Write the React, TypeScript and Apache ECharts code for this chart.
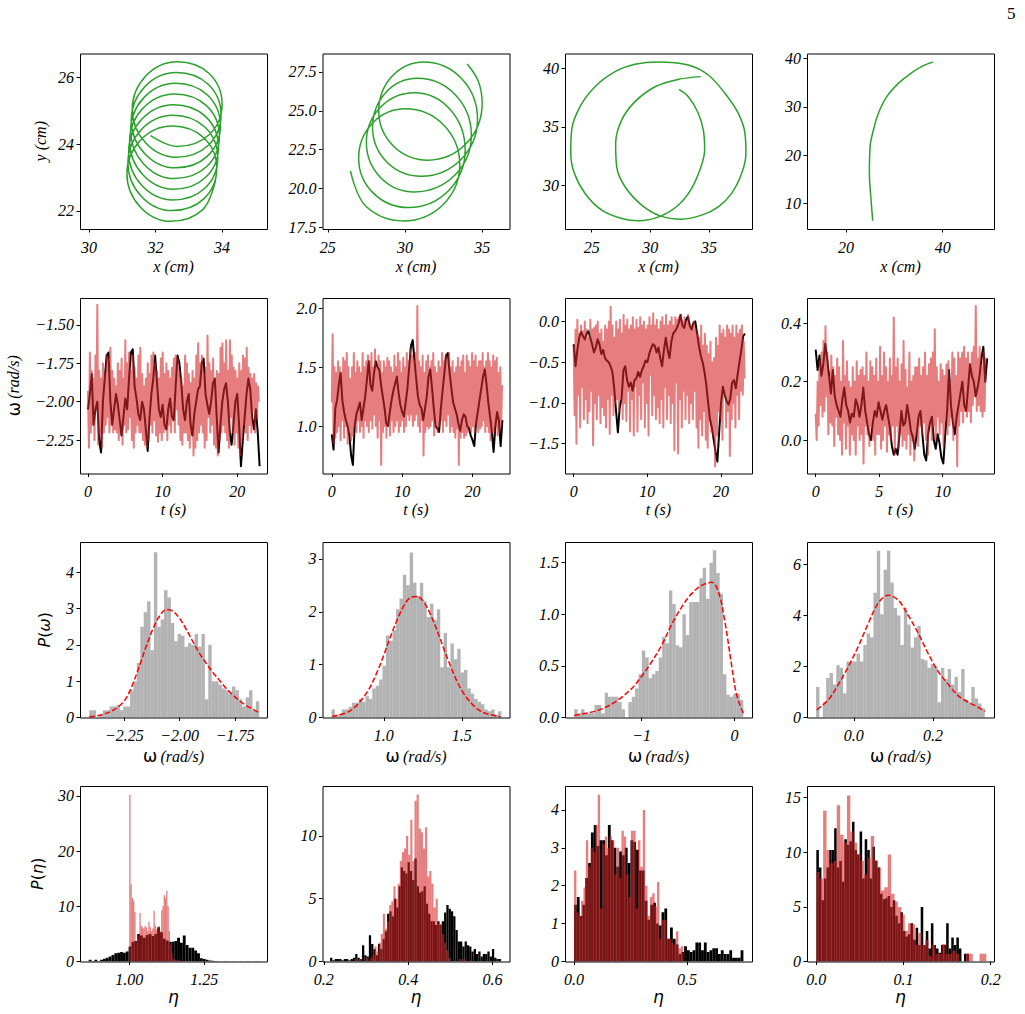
import React, { useEffect, useRef } from "react";
import * as echarts from "echarts";

// ---------------- Row 1: trajectories (x, y in cm) ----------------
const traj1 = [
  [31.85, 24.25],
  [32.65, 23.93], [33.61, 24.28], [34.0, 25.195], [33.61, 26.11], [32.65, 26.46], [31.7, 26.03], [31.3, 25.035], [31.7, 24.04],
  [32.62, 23.61], [33.58, 23.96], [33.97, 24.875], [33.58, 25.79], [32.62, 26.14], [31.67, 25.71], [31.27, 24.715], [31.67, 23.72],
  [32.6, 23.29], [33.56, 23.64], [33.95, 24.555], [33.56, 25.47], [32.6, 25.82], [31.65, 25.39], [31.25, 24.395], [31.65, 23.4],
  [32.57, 22.97], [33.53, 23.32], [33.92, 24.235], [33.53, 25.15], [32.57, 25.5], [31.62, 25.07], [31.22, 24.075], [31.62, 23.08],
  [32.54, 22.65], [33.5, 23.0], [33.89, 23.915], [33.5, 24.83], [32.54, 25.18], [31.59, 24.75], [31.19, 23.755], [31.59, 22.76],
  [32.52, 22.33], [33.48, 22.68], [33.87, 23.595], [33.48, 24.51], [32.52, 24.86], [31.57, 24.43], [31.17, 23.435], [31.57, 22.44],
  [32.49, 22.01], [33.45, 22.36], [33.84, 23.275], [33.45, 24.19], [32.49, 24.54], [31.54, 24.11], [31.14, 23.115], [31.54, 22.12],
  [32.46, 21.69], [33.42, 22.04], [33.81, 22.955],
];
const traj2 = [
  [26.47, 21.13], [27.47, 18.85],
  [29.9, 17.91], [32.48, 18.97], [33.55, 21.52], [32.52, 24.07], [30.03, 25.13], [27.89, 24.2], [27.0, 21.95], [27.95, 19.7],
  [30.23, 18.77], [32.82, 19.85], [33.9, 22.47], [32.93, 25.09], [30.6, 26.17], [28.41, 25.23], [27.5, 22.97], [28.41, 20.71],
  [30.6, 19.78], [33.22, 20.85], [34.3, 23.43], [33.27, 26.02], [30.8, 27.09], [28.75, 26.17], [27.9, 23.94], [28.82, 21.71],
  [31.05, 20.79], [33.63, 21.87], [34.7, 24.47], [33.68, 27.07], [31.22, 28.15], [29.16, 27.22], [28.3, 24.98], [29.23, 22.75],
  [31.47, 21.82], [33.97, 22.89], [35.0, 25.48], [34.75, 26.9], [34.03, 28.02],
];
const traj3 = [
  [34.29, 39.29], [32.39, 39.06], [30.4, 38.43], [28.69, 37.16], [27.55, 35.59], [27.04, 33.6], [27.13, 31.61], [27.84, 29.91],
  [29.26, 28.35], [30.88, 27.41], [32.67, 27.15], [34.38, 27.49], [35.8, 28.2], [36.93, 29.34], [37.79, 31.05], [38.15, 32.75],
  [38.07, 34.46], [37.5, 36.16], [36.36, 37.87], [34.94, 39.43], [33.24, 40.28], [30.68, 40.54], [28.69, 40.34], [26.99, 39.71],
  [25.28, 38.43], [24.0, 36.73], [23.29, 34.74], [23.21, 32.75], [23.52, 31.05], [24.43, 29.34], [25.85, 27.92], [27.55, 27.21],
  [28.98, 27.01], [30.88, 27.41], [32.39, 28.35], [33.52, 29.77], [34.32, 31.61], [34.63, 33.03], [34.52, 34.74], [34.03, 36.3],
  [33.24, 37.58], [32.44, 38.21],
];
const traj4 = [
  [25.52, 6.4], [25.18, 10.7], [24.83, 16.2], [24.97, 21.75], [25.66, 25.2], [26.69, 28.67], [28.42, 32.12], [30.83, 34.89],
  [33.6, 37.1], [36.0, 38.55], [37.94, 39.32],
];

// ---------------- Row 2: angular velocity time series (rad/s) ----------------
const T_END = [23.0, 24.25, 23.25, 13.5];
const T_END_RED = [22.9, 24.2, 23.2, 13.45];
const omegaBlack1 = [
  -2.05, -1.95, -1.82, -2.15, -2.05, -2.0, -2.25, -2.33, -2.0, -1.85,
  -1.7, -1.68, -2.0, -2.15, -2.05, -1.95, -2.02, -2.12, -2.22, -2.1,
  -1.98, -2.05, -1.85, -1.68, -1.66, -1.9, -1.98, -2.08, -2.12, -2.0,
  -2.05, -2.18, -2.32, -2.1, -1.95, -1.85, -1.7, -1.88, -2.05, -2.1,
  -2.02, -2.15, -2.18, -2.05, -1.98, -2.1, -2.12, -1.9, -1.7, -1.75,
  -1.88, -2.05, -2.12, -2.0, -1.95, -2.15, -2.22, -2.08, -2.0, -1.92,
  -1.9, -1.75, -1.72, -1.95, -2.02, -2.08, -2.0, -1.88, -1.85, -2.1,
  -2.33, -2.15, -2.0, -1.92, -1.88, -2.0, -2.2, -2.28, -2.15, -2.0,
  -1.95, -2.15, -2.42, -2.25, -2.1, -1.95, -1.85, -1.92, -2.1, -2.18,
  -2.05, -2.2, -2.42,
];
const omegaRed1 = [
  -1.93, -2.3, -1.68, -2.2, -1.8, -2.15, -1.85, -2.25,
  -1.7, -2.05, -1.37, -2.28, -1.8, -2.2, -1.85, -2.3,
  -1.75, -2.2, -1.82, -2.15, -1.7, -2.1, -1.72, -2.2,
  -1.65, -2.15, -1.8, -2.2, -1.85, -2.18, -1.9, -2.2,
  -1.75, -2.25, -1.8, -2.2, -1.72, -2.28, -1.85, -2.15,
  -1.6, -2.2, -1.75, -2.18, -1.68, -2.1, -1.8, -2.25,
  -1.7, -2.3, -1.78, -2.2, -1.85, -2.15, -1.7, -2.2,
  -1.65, -2.2, -1.82, -2.25, -1.9, -2.28, -1.85, -2.3,
  -1.75, -2.25, -1.82, -2.15, -1.7, -2.2, -1.68, -2.12,
  -1.75, -2.22, -1.8, -2.26, -1.85, -2.2, -1.72, -2.25,
  -1.68, -2.2, -1.82, -2.18, -1.75, -2.25, -1.8, -2.15,
  -1.85, -2.2, -1.78, -2.12, -1.72, -2.2, -1.7, -2.05,
  -1.72, -2.15, -1.8, -2.25, -1.85, -2.28, -1.9, -2.2,
  -1.7, -2.2, -1.75, -2.25, -1.82, -2.3, -1.88, -2.2,
  -1.8, -2.35, -1.85, -2.3, -1.7, -2.25, -1.62, -2.2,
  -1.75, -2.15, -1.7, -2.2, -1.82, -2.3, -1.78, -2.25,
  -1.57, -2.1, -1.75, -2.2, -1.8, -2.15, -1.72, -2.28,
  -1.85, -2.3, -1.8, -2.35, -1.82, -2.25, -1.65, -2.2,
  -1.62, -2.15, -1.75, -2.2, -1.6, -2.25, -1.8, -2.3,
  -1.6, -2.1, -1.7, -2.2, -1.78, -2.28, -1.8, -2.2,
  -1.85, -2.3, -1.75, -2.35, -1.8, -2.25, -1.7, -2.15,
  -1.72, -2.2, -1.65, -2.25, -1.78, -2.15, -1.82, -2.2,
  -1.85, -2.05, -1.82, -2.2, -1.88, -2.1, -1.9, -2.0,
];
const omegaBlack2 = [
  0.93, 0.8, 1.15, 1.22, 1.35, 1.45, 1.22, 1.12, 1.05, 1.0,
  0.92, 0.75, 0.67, 1.0, 1.1, 1.15, 1.2, 1.05, 1.15, 1.25,
  1.4, 1.55, 1.35, 1.3, 1.45, 1.55, 1.5, 1.48, 1.35, 1.25,
  1.15, 1.02, 1.0, 1.12, 1.22, 1.3, 1.36, 1.42, 1.28, 1.18,
  1.12, 1.08, 1.2, 1.32, 1.5, 1.68, 1.73, 1.56, 1.4, 1.25,
  1.18, 1.15, 1.05, 1.15, 1.25, 1.42, 1.48, 1.32, 1.15, 1.0,
  0.98, 0.95, 1.15, 1.3, 1.45, 1.6, 1.62, 1.45, 1.32, 1.2,
  1.15, 1.1, 1.02, 0.96, 1.05, 1.1, 1.08, 1.0, 0.98, 0.92,
  0.88, 0.83, 1.02, 1.12, 1.22, 1.32, 1.42, 1.48, 1.35, 1.2,
  1.08, 0.95, 0.78, 1.0, 1.12, 1.05, 0.83, 1.05,
];
const omegaRed2 = [
  1.2, 1.78, 0.85, 1.5, 0.9, 1.45, 0.95, 1.55,
  1.0, 1.5, 0.88, 1.45, 1.05, 1.58, 0.9, 1.55,
  1.0, 1.62, 0.85, 1.5, 0.95, 1.4, 0.88, 1.5,
  0.92, 1.62, 1.0, 1.45, 0.95, 1.55, 1.05, 1.5,
  0.95, 1.45, 1.0, 1.62, 0.9, 1.5, 1.05, 1.55,
  1.0, 1.6, 0.95, 1.55, 1.05, 1.62, 0.98, 1.5,
  1.1, 1.65, 1.0, 1.5, 0.9, 1.6, 1.05, 1.55,
  0.67, 1.45, 0.95, 1.55, 1.0, 1.5, 0.9, 1.58,
  1.0, 1.55, 0.92, 1.5, 1.05, 1.45, 0.95, 1.6,
  1.0, 1.5, 1.05, 1.62, 0.95, 1.55, 1.0, 1.45,
  1.05, 1.58, 0.95, 1.5, 1.0, 1.62, 1.1, 1.55,
  1.05, 1.65, 1.1, 1.6, 1.0, 1.55, 1.05, 1.62,
  1.1, 2.02, 1.0, 1.55, 0.95, 1.5, 1.05, 1.6,
  0.75, 1.45, 0.95, 1.55, 1.0, 1.6, 0.98, 1.5,
  1.0, 1.55, 1.05, 1.62, 0.92, 1.5, 1.0, 1.45,
  0.95, 1.55, 1.0, 1.5, 1.05, 1.62, 0.95, 1.55,
  1.05, 1.6, 1.0, 1.55, 1.1, 1.62, 0.95, 1.5,
  1.0, 1.55, 0.95, 1.45, 0.9, 1.5, 0.98, 1.58,
  0.67, 1.5, 0.9, 1.55, 0.95, 1.6, 0.9, 1.45,
  0.92, 1.6, 0.95, 1.55, 1.0, 1.5, 0.95, 1.62,
  1.0, 1.55, 0.95, 1.6, 1.02, 1.5, 0.95, 1.55,
  0.98, 1.55, 1.0, 1.62, 1.05, 1.5, 0.95, 1.55,
  1.0, 1.62, 0.95, 1.55, 0.88, 1.5, 0.95, 1.6,
  0.95, 1.55, 1.0, 1.58, 0.92, 1.45, 0.95, 1.5,
  1.0, 1.35,
];
const omegaBlack3 = [
  -0.28, -0.55, -0.35, -0.2, -0.13, -0.18, -0.22, -0.15, -0.12, -0.2,
  -0.28, -0.38, -0.32, -0.22, -0.28, -0.4, -0.35, -0.45, -0.48, -0.5,
  -0.55, -0.62, -0.82, -1.1, -1.36, -1.05, -0.95, -0.6, -0.55, -0.72,
  -0.8, -0.75, -0.85, -0.72, -0.7, -0.62, -0.68, -0.6, -0.55, -0.48,
  -0.5, -0.4, -0.33, -0.28, -0.3, -0.38, -0.32, -0.45, -0.55, -0.35,
  -0.2, -0.35, -0.45, -0.25, -0.15, -0.12, -0.08, -0.02, 0.08, -0.05,
  -0.08, 0.02, 0.06, -0.05, -0.1, -0.02, 0.0, -0.15, -0.3, -0.42,
  -0.5, -0.62, -0.78, -1.0, -1.2, -1.3, -1.45, -1.6, -1.72, -1.35,
  -1.0, -0.8, -0.9, -0.98, -1.02, -0.95, -0.75, -0.72, -0.82, -0.65,
  -0.5, -0.35, -0.18, -0.15,
];
const omegaRed3 = [
  -0.3, -1.15, -0.1, -1.5, 0.02, -0.9, -0.15, -1.3,
  -0.05, -0.8, -0.12, -1.2, 0.0, -0.95, -0.1, -1.25,
  -0.2, -1.1, 0.02, -0.85, -0.1, -1.52, -0.08, -1.0,
  -0.05, -1.2, 0.0, -0.9, -0.15, -1.25, -0.1, -1.05,
  -0.25, -1.15, -0.05, -1.3, -0.1, -0.95, 0.0, -1.38,
  0.18, -0.9, -0.05, -1.15, -0.2, -1.0, 0.0, -0.95,
  -0.1, -1.1, 0.02, -0.95, -0.15, -1.2, 0.08, -1.0,
  -0.05, -1.22, 0.02, -0.85, -0.1, -1.35, -0.05, -0.95,
  0.05, -1.4, -0.1, -0.8, 0.02, -1.35, -0.08, -0.9,
  0.05, -1.2, -0.05, -0.75, 0.0, -1.3, -0.1, -1.0,
  -0.05, -1.4, 0.05, -0.65, -0.05, -1.15, 0.1, -0.9,
  -0.05, -1.2, 0.02, -1.05, -0.1, -1.25, 0.0, -0.95,
  0.05, -1.3, -0.05, -0.8, 0.08, -1.2, -0.05, -0.9,
  0.0, -1.25, 0.05, -1.0, -0.05, -1.58, 0.05, -0.75,
  0.02, -1.62, 0.05, -0.95, 0.08, -1.3, 0.0, -0.85,
  0.05, -1.2, 0.0, -0.9, 0.08, -1.25, -0.05, -1.0,
  -0.05, -1.2, 0.0, -0.85, -0.1, -1.3, -0.15, -1.55,
  -0.2, -1.2, -0.05, -1.4, -0.3, -1.1, -0.15, -1.45,
  -0.3, -1.55, -0.4, -1.2, -0.25, -1.35, -0.5, -1.4,
  -0.45, -1.78, -0.2, -1.4, -0.3, -1.1, -0.05, -1.2,
  -0.15, -1.45, -0.1, -0.9, -0.2, -1.3, -0.05, -1.1,
  -0.1, -1.65, -0.15, -1.2, -0.05, -1.0, -0.2, -1.3,
  -0.05, -0.9, -0.15, -1.2, -0.1, -0.85, -0.05, -0.9,
  -0.25, -0.7,
];
const omegaBlack4 = [
  0.31, 0.24, 0.29, 0.22, 0.26, 0.33, 0.28, 0.22, 0.16, 0.24,
  0.15, 0.12, 0.1, 0.08, 0.14, 0.18, 0.12, 0.1, 0.06, 0.09,
  0.08, 0.14, 0.12, 0.08, 0.12, 0.18, 0.1, 0.06, 0.02, 0.0,
  0.06, 0.1, 0.08, 0.13, 0.1, 0.07, 0.1, 0.12, 0.08, 0.04,
  -0.02, -0.05, -0.03, -0.05, 0.02, 0.1, 0.05, 0.06, 0.12, 0.08,
  0.03, 0.01, -0.03, 0.02, 0.08, 0.1, 0.02, -0.05, -0.07, 0.02,
  0.06, 0.08, 0.0, -0.03, 0.02, -0.01, -0.06, -0.08, 0.02, 0.1,
  0.24, 0.12, 0.06, 0.02, 0.08, 0.12, 0.16, 0.2, 0.12, 0.1,
  0.18, 0.26, 0.22, 0.2, 0.15, 0.18, 0.22, 0.28, 0.32, 0.2,
  0.28,
];
const omegaRed4 = [
  0.09, 0.0, 0.2, 0.05, 0.27, 0.12, 0.3, 0.08,
  0.34, 0.1, 0.39, 0.15, 0.3, 0.02, 0.22, 0.06,
  0.29, 0.05, 0.25, -0.02, 0.22, 0.08, 0.28, 0.02,
  0.25, 0.0, 0.2, -0.05, 0.34, 0.06, 0.22, -0.03,
  0.27, 0.05, 0.2, -0.05, 0.18, 0.02, 0.25, 0.0,
  0.2, -0.05, 0.27, 0.05, 0.22, 0.0, 0.24, 0.02,
  0.25, -0.08, 0.22, 0.05, 0.3, 0.02, 0.2, -0.02,
  0.27, 0.05, 0.25, 0.0, 0.22, -0.05, 0.28, 0.02,
  0.2, 0.02, 0.32, -0.03, 0.22, 0.0, 0.3, 0.05,
  0.25, -0.04, 0.2, 0.02, 0.28, 0.0, 0.22, 0.05,
  0.42, -0.05, 0.25, 0.05, 0.28, -0.03, 0.2, 0.02,
  0.26, -0.02, 0.34, 0.0, 0.24, -0.03, 0.18, 0.02,
  0.3, -0.05, 0.2, 0.0, 0.22, -0.07, 0.25, 0.02,
  0.25, -0.02, 0.28, 0.05, 0.22, 0.02, 0.25, 0.06,
  0.3, 0.0, 0.22, -0.05, 0.26, 0.05, 0.28, 0.0,
  0.3, 0.05, 0.38, 0.0, 0.25, 0.08, 0.2, 0.02,
  0.26, 0.06, 0.24, -0.02, 0.22, 0.08, 0.26, 0.02,
  0.27, 0.05, 0.2, 0.08, 0.3, 0.0, 0.28, 0.05,
  0.22, -0.09, 0.3, 0.05, 0.28, 0.1, 0.3, 0.06,
  0.32, 0.1, 0.28, 0.08, 0.3, 0.1, 0.26, 0.06,
  0.3, 0.12, 0.32, 0.15, 0.46, 0.1, 0.28, 0.12,
  0.32, 0.1, 0.25, 0.08, 0.3, 0.1, 0.28, 0.28,
];

// ---------------- Row 3: P(omega) histograms + fitted curves ----------------
const hist3Start = [-2.408, 0.665, -1.727, -0.0951];
const hist3Width = [0.01534, 0.02178, 0.03646, 0.00852];
const pOmega1 = [
  0.2, 0.2, 0.0, 0.1, 0.2, 0.2, 0.3, 0.3, 0.35, 0.2,
  0.3, 0.3, 0.75, 1.0, 1.5, 2.5, 2.9, 3.2, 1.85, 4.55,
  2.5, 2.7, 3.5, 3.3, 2.6, 2.1, 2.3, 2.25, 1.95, 2.05,
  2.0, 2.3, 1.95, 2.3, 0.5, 2.0, 1.0, 1.0, 0.9, 0.8,
  0.75, 0.65, 0.85, 0.75, 0.5, 0.3, 0.55, 0.75, 0.2, 0.45,
];
const pOmega2 = [
  0.15, 0.05, 0.07, 0.15, 0.15, 0.2, 0.28, 0.28, 0.35, 0.3,
  0.4, 0.35, 0.55, 0.6, 0.72, 0.98, 1.55, 1.45, 1.65, 2.05,
  2.25, 2.7, 2.5, 3.12, 2.55, 2.3, 2.55, 2.2, 1.9, 2.15,
  1.85, 2.05, 0.95, 1.6, 0.95, 1.4, 1.1, 1.3, 0.85, 0.9,
  0.55, 0.45, 0.35, 0.3, 0.25, 0.15, 0.12, 0.15, 0.05, 0.12,
];
const pOmega3 = [
  0.08, 0.04, 0.08, 0.04, 0.04, 0.04, 0.12, 0.12, 0.04, 0.24,
  0.2, 0.2, 0.2, 0.15, 0.08, 0.0, 0.15, 0.2, 0.28, 0.42,
  0.65, 0.58, 0.38, 0.42, 0.45, 0.58, 0.78, 0.72, 1.23, 1.1,
  0.7, 0.68, 1.0, 0.8, 1.12, 1.12, 1.12, 1.35, 1.45, 1.15,
  1.5, 1.62, 1.4, 1.2, 0.42, 0.22, 0.2, 0.23, 0.23, 0.17,
];
const pOmega4 = [
  1.2, 0.0, 0.6, 1.55, 1.75, 1.3, 2.05, 1.95, 0.95, 2.2,
  2.2, 2.2, 2.5, 2.2, 2.85, 3.3, 3.15, 4.9, 6.55, 4.05,
  5.8, 6.55, 5.3, 4.3, 4.0, 2.85, 4.3, 3.65, 2.75, 3.15,
  3.6, 2.3, 2.25, 1.95, 2.1, 2.0, 0.6, 1.95, 1.5, 1.9,
  1.3, 1.6, 1.0, 1.9, 0.7, 0.6, 1.2, 0.75, 0.55, 0.35,
];
const fit1 = [
  [-2.408, 0.02], [-2.36, 0.06], [-2.33, 0.12], [-2.3, 0.2], [-2.27, 0.33], [-2.24, 0.55], [-2.21, 0.95],
  [-2.18, 1.45], [-2.15, 1.98], [-2.12, 2.45], [-2.09, 2.8], [-2.06, 2.97], [-2.03, 2.92], [-2.0, 2.72],
  [-1.97, 2.42], [-1.94, 2.08], [-1.91, 1.76], [-1.88, 1.49], [-1.85, 1.24], [-1.82, 1.02], [-1.79, 0.8],
  [-1.76, 0.62], [-1.73, 0.46], [-1.7, 0.33], [-1.67, 0.23], [-1.645, 0.14],
];
const fit2 = [
  [0.669, 0.02], [0.787, 0.13], [0.893, 0.48], [0.957, 0.86], [1.0, 1.18], [1.043, 1.53], [1.086, 1.85],
  [1.128, 2.11], [1.171, 2.27], [1.214, 2.29], [1.257, 2.18], [1.299, 1.95], [1.342, 1.64], [1.385, 1.3],
  [1.428, 0.97], [1.47, 0.68], [1.513, 0.45], [1.577, 0.22], [1.641, 0.09], [1.748, 0.015],
];
const fit3 = [
  [-1.727, 0.02], [-1.468, 0.07], [-1.288, 0.15], [-1.108, 0.28], [-1.0, 0.4], [-0.892, 0.54], [-0.785, 0.7],
  [-0.677, 0.9], [-0.569, 1.07], [-0.461, 1.2], [-0.353, 1.28], [-0.245, 1.31], [-0.173, 1.22], [-0.101, 0.92],
  [-0.029, 0.5], [0.024, 0.22], [0.096, 0.04],
];
const fit4 = [
  [-0.0934, 0.3], [-0.064, 0.7], [-0.0388, 1.3], [-0.0135, 2.0], [0.0117, 2.8], [0.0369, 3.7], [0.0621, 4.5],
  [0.0873, 4.8], [0.1126, 4.6], [0.1378, 4.0], [0.163, 3.3], [0.1882, 2.5], [0.2134, 1.8], [0.2387, 1.3],
  [0.2639, 0.85], [0.2891, 0.6], [0.3143, 0.4], [0.3312, 0.25],
];

// ---------------- Row 4: P(eta) histograms (black and red) ----------------
const etaBlackStart = [0.865, 0.215, 0.0, 0.0];
const etaBlackWidth = [0.0095, 0.0054, 0.0125, 0.00292];
const etaRedStart = [1.0, 0.27, 0.0, 0.0];
const etaRedWidth = [0.00425, 0.005, 0.0105, 0.0039];
const etaBlack1 = [
  0.3, 0.1, 0.3, 0.1, 0.3, 0.5, 0.7, 0.9, 1.2, 1.5,
  1.6, 1.7, 1.6, 1.8, 2.7, 3.6, 3.7, 5.0, 4.7, 4.3,
  4.8, 5.0, 4.6, 5.0, 6.2, 5.3, 4.1, 3.8, 3.6, 3.6,
  3.7, 4.3, 3.4, 4.7, 3.0, 2.5, 2.5, 2.0, 1.5, 0.6,
  0.45, 0.3, 0.2, 0.15, 0.1, 0.05, 0.0, 0.05, 0.05, 0.0,
  0.05, 0.0, 0.0, 0.05, 0.0, 0.05, 0.0, 0.0, 0.05, 0.05,
];
const etaRed1 = [
  30.2, 14.0, 11.5, 11.0, 9.0, 3.6, 4.2, 4.9, 8.8, 6.5,
  6.2, 6.0, 6.5, 6.2, 5.5, 7.2, 6.2, 5.5, 6.0, 9.2,
  6.5, 5.8, 6.2, 6.5, 5.5, 9.3, 10.0, 12.0, 11.5, 12.8,
  10.0, 5.5, 3.0, 1.5, 0.5, 0.4, 0.3, 0.2, 0.3, 0.2,
];
const etaBlack2 = [
  0.3, 0.1, 0.2, 0.2, 0.2, 0.1, 0.2, 0.2, 0.1, 0.2,
  0.3, 0.6, 0.3, 0.2, 1.3, 0.5, 0.4, 2.1, 1.4, 1.0,
  0.5, 1.4, 1.0, 1.8, 2.4, 3.8, 4.0, 3.6, 5.0, 4.3,
  6.0, 7.5, 7.2, 7.0, 7.9, 7.2, 6.5, 8.2, 6.0, 5.5,
  5.6, 6.0, 4.6, 3.8, 3.2, 3.2, 2.9, 3.2, 2.9, 3.2,
  3.9, 4.5, 4.2, 4.0, 3.6, 2.5, 1.6, 1.6, 1.2, 1.6,
  1.3, 1.2, 0.8, 1.0, 0.6, 0.8, 0.4, 0.6, 0.6, 0.8,
  0.4, 1.0, 0.3, 0.2, 0.2,
];
const etaRed2 = [
  0.0, 0.2, 0.0, 0.2, 0.0, 0.0, 0.3, 0.0, 0.3, 0.5,
  1.2, 0.8, 1.5, 2.2, 3.8, 2.6, 3.2, 4.5, 4.8, 6.0,
  5.0, 6.2, 8.0, 8.7, 9.0, 10.0, 8.5, 11.3, 8.0, 12.8,
  13.3, 10.6, 10.3, 9.0, 10.7, 6.8, 7.2, 6.2, 4.3, 5.0,
  3.0, 3.0, 2.2, 1.5, 0.9, 0.3, 0.0, 0.0, 0.0, 0.0,
  0.2, 0.0, 0.2,
];
const etaBlack3 = [
  1.5, 1.7, 1.2, 1.5, 2.2, 2.6, 3.4, 3.6, 3.05, 3.2,
  3.2, 2.8, 3.6, 3.2, 3.0, 2.5, 2.9, 2.8, 3.0, 2.6,
  3.2, 3.15, 2.95, 2.4, 2.4, 1.6, 1.1, 1.5, 1.55, 1.0,
  0.95, 1.3, 1.4, 0.6, 0.9, 0.6, 0.45, 0.2, 0.25, 0.4,
  0.3, 0.25, 0.3, 0.5, 0.5, 0.3, 0.5, 0.25, 0.3, 0.35,
  0.35, 0.2, 0.3, 0.2, 0.2, 0.3, 0.1, 0.1, 0.1, 0.3,
];
const etaRed3 = [
  2.4, 1.3, 1.2, 1.6, 1.95, 3.2, 2.5, 3.0, 2.9, 3.6,
  4.4, 1.4, 3.1, 3.3, 3.0, 3.3, 3.2, 2.3, 3.0, 2.2,
  3.45, 3.3, 2.3, 1.7, 3.45, 3.45, 1.4, 3.2, 2.5, 4.0,
  2.0, 1.2, 1.7, 1.8, 1.45, 2.1, 0.6, 1.1, 1.1, 0.6,
  0.6, 0.5, 0.45, 0.8, 0.35, 0.4,
];
const etaBlack4 = [
  10.2, 8.6, 5.6, 7.6, 8.6, 10.2, 10.2, 12.2, 8.6, 9.2,
  7.3, 11.2, 10.7, 11.0, 12.8, 10.2, 9.8, 11.9, 7.6, 11.2,
  10.2, 7.6, 10.5, 9.2, 8.6, 6.2, 5.7, 5.8, 6.0, 5.0,
  5.6, 4.2, 3.5, 4.5, 2.8, 2.3, 2.5, 3.5, 2.0, 3.1,
  1.5, 5.0, 1.5, 2.8, 1.2, 3.5, 1.5, 1.2, 0.8, 1.5,
  1.5, 3.5, 1.2, 2.2, 1.5, 2.2, 1.2, 0.0, 0.7, 0.7,
];
const etaRed4 = [
  8.2, 7.6, 13.8, 10.2, 9.0, 9.2, 14.3, 11.6, 10.9, 15.2,
  11.9, 10.9, 9.8, 9.2, 8.0, 9.5, 11.5, 9.3, 8.6, 6.5,
  6.8, 9.8, 6.2, 5.5, 5.0, 4.3, 2.8, 3.5, 3.4, 1.5,
  2.6, 1.5, 2.0, 0.5, 1.5, 0.7, 0.7, 1.6, 0.7, 0.7,
  1.0, 0.7, 0.0, 0.0, 0.7, 0.7, 0.0, 0.0, 0.7, 0.7,
];

// ---------------- Axes: ranges and tick labels ----------------
const axes = [
  { x: [29.73, 35.35], xt: [30, 32, 34], xd: 0, y: [21.46, 26.71], yt: [22, 24, 26], yd: 0 },
  { x: [24.66, 36.77], xt: [25, 30, 35], xd: 0, y: [17.39, 28.69], yt: [17.5, 20, 22.5, 25, 27.5], yd: 1 },
  { x: [22.72, 38.67], xt: [25, 30, 35], xd: 0, y: [26.31, 41.26], yt: [30, 35, 40], yd: 0 },
  { x: [11.93, 50.6], xt: [20, 40], xd: 0, y: [4.67, 41.08], yt: [10, 20, 30, 40], yd: 0 },
  { x: [-1.07, 23.99], xt: [0, 10, 20], xd: 0, y: [-2.467, -1.326], yt: [-2.25, -2.0, -1.75, -1.5], yd: 2 },
  { x: [-1.32, 25.26], xt: [0, 10, 20], xd: 0, y: [0.597, 2.088], yt: [1.0, 1.5, 2.0], yd: 1 },
  { x: [-1.18, 24.2], xt: [0, 10, 20], xd: 0, y: [-1.865, 0.287], yt: [-1.5, -1.0, -0.5, 0.0], yd: 1 },
  { x: [-0.685, 14.04], xt: [0, 5, 10], xd: 0, y: [-0.1145, 0.487], yt: [0.0, 0.2, 0.4], yd: 1 },
  { x: [-2.45, -1.606], xt: [-2.25, -2.0, -1.75], xd: 2, y: [0, 4.83], yt: [0, 1, 2, 3, 4], yd: 0 },
  { x: [0.607, 1.806], xt: [1.0, 1.5], xd: 1, y: [0, 3.32], yt: [0, 1, 2, 3], yd: 0 },
  { x: [-1.827, 0.19], xt: [-1, 0], xd: 0, y: [0, 1.7], yt: [0.0, 0.5, 1.0, 1.5], yd: 1 },
  { x: [-0.118, 0.354], xt: [0.0, 0.2], xd: 1, y: [0, 6.89], yt: [0, 2, 4, 6], yd: 0 },
  { x: [0.836, 1.459], xt: [1.0, 1.25], xd: 2, y: [0, 31.8], yt: [0, 10, 20, 30], yd: 0 },
  { x: [0.197, 0.64], xt: [0.2, 0.4, 0.6], xd: 1, y: [0, 13.98], yt: [0, 5, 10], yd: 0 },
  { x: [-0.0398, 0.788], xt: [0.0, 0.5], xd: 1, y: [0, 4.63], yt: [0, 1, 2, 3, 4], yd: 0 },
  { x: [-0.0107, 0.2038], xt: [0.0, 0.1, 0.2], xd: 1, y: [0, 16.07], yt: [0, 5, 10, 15], yd: 0 },
];

const COL_LEFT = [80, 322.5, 565, 807];
const ROW_TOP = [53.5, 298, 542, 786];
const PW = 187;
const PH = 175.5;
const TRAJ_SMOOTH = [0.38, 0.38, 0.36, 0.4];

const SERIF = "'Liberation Serif', 'Times New Roman', serif";
const SANS = "'DejaVu Sans', sans-serif";
const GREEN = "#2ca02c";
const RED_T = "rgba(214,39,40,0.6)";
const GRAY_T = "rgba(128,128,128,0.6)";

const fmt = (d: number) => (v: number) => Number(v).toFixed(d).replace("-", "\u2212");

const omegaRich = {
  w: { fontFamily: SANS, fontSize: 17, color: "#000" },
  u: { fontFamily: SERIF, fontStyle: "italic", fontSize: 16, color: "#000" },
};
const pRich = {
  i: { fontFamily: SANS, fontStyle: "italic", fontSize: 16, color: "#000" },
  n: { fontFamily: SANS, fontSize: 16, color: "#000" },
};

function xName(row: number) {
  if (row === 0) return { name: "x (cm)", gap: 29, style: { fontFamily: SERIF, fontStyle: "italic", fontSize: 16, color: "#000" } };
  if (row === 1) return { name: "t (s)", gap: 28, style: { fontFamily: SERIF, fontStyle: "italic", fontSize: 16, color: "#000" } };
  if (row === 2) return { name: "{w|ω} {u|(rad/s)}", gap: 30, style: { rich: omegaRich } };
  return { name: "η", gap: 27, style: { fontFamily: SANS, fontStyle: "italic", fontSize: 17, color: "#000" } };
}
function yName(row: number) {
  if (row === 0) return { name: "y (cm)", gap: 32, style: { fontFamily: SERIF, fontStyle: "italic", fontSize: 16, color: "#000" } };
  if (row === 1) return { name: "{w|ω} {u|(rad/s)}", gap: 58, style: { rich: omegaRich } };
  if (row === 2) return { name: "{i|P}{n|(}{i|ω}{n|)}", gap: 28, style: { rich: pRich } };
  return { name: "{i|P}{n|(}{i|η}{n|)}", gap: 35, style: { rich: pRich } };
}

function buildOption() {
  const grid: any[] = [];
  const xAxis: any[] = [];
  const yAxis: any[] = [];
  const series: any[] = [];
  const graphic: any[] = [];

  const labelStyle = { color: "#000", fontFamily: SERIF, fontStyle: "italic", fontSize: 16 };

  for (let r = 0; r < 4; r++) {
    for (let c = 0; c < 4; c++) {
      const i = r * 4 + c;
      const a = axes[i];
      grid.push({ left: COL_LEFT[c], top: ROW_TOP[r], width: PW, height: PH });
      const xn = xName(r);
      xAxis.push({
        type: "value", gridIndex: i, min: a.x[0], max: a.x[1], position: "bottom",
        axisLine: { show: false, onZero: false }, splitLine: { show: false },
        axisTick: { show: true, length: 3.5, lineStyle: { color: "#000", width: 1 }, customValues: a.xt },
        axisLabel: { ...labelStyle, customValues: a.xt, formatter: fmt(a.xd), margin: 10 },
        name: xn.name, nameLocation: "middle", nameGap: xn.gap, nameTextStyle: xn.style,
      });
      const yn = c === 0 ? yName(r) : null;
      yAxis.push({
        type: "value", gridIndex: i, min: a.y[0], max: a.y[1], position: "left",
        axisLine: { show: false, onZero: false }, splitLine: { show: false },
        axisTick: { show: true, length: 3.5, lineStyle: { color: "#000", width: 1 }, customValues: a.yt },
        axisLabel: { ...labelStyle, customValues: a.yt, formatter: fmt(a.yd), margin: 6 },
        ...(yn ? { name: yn.name, nameLocation: "middle", nameRotate: 90, nameGap: yn.gap, nameTextStyle: yn.style } : {}),
      });
      graphic.push({
        type: "rect", z: 100, silent: true,
        shape: { x: COL_LEFT[c] + 0.5, y: ROW_TOP[r] + 0.5, width: PW, height: PH },
        style: { fill: "none", stroke: "#000", lineWidth: 1 },
      });
    }
  }

  const traj = [traj1, traj2, traj3, traj4];
  traj.forEach((pts, c) => {
    series.push({
      type: "line", xAxisIndex: c, yAxisIndex: c, data: pts, showSymbol: false, smooth: TRAJ_SMOOTH[c],
      lineStyle: { color: GREEN, width: 1.5 }, silent: true,
    });
  });

  const blacks = [omegaBlack1, omegaBlack2, omegaBlack3, omegaBlack4];
  const reds = [omegaRed1, omegaRed2, omegaRed3, omegaRed4];
  for (let c = 0; c < 4; c++) {
    const i = 4 + c;
    const b = blacks[c];
    const rd = reds[c];
    series.push({
      type: "line", xAxisIndex: i, yAxisIndex: i, showSymbol: false, silent: true, z: 2,
      data: b.map((v, k) => [(k * T_END[c]) / (b.length - 1), v]),
      lineStyle: { color: "#000", width: 2, join: "round" },
    });
    series.push({
      type: "line", xAxisIndex: i, yAxisIndex: i, showSymbol: false, silent: true, z: 3,
      data: rd.map((v, k) => [(k * T_END_RED[c]) / (rd.length - 1), v]),
      lineStyle: { color: RED_T, width: 2, join: "round" },
    });
  }

  const histSeries = (i: number, start: number, width: number, vals: number[], fill: string, z: number) => ({
    type: "custom", xAxisIndex: i, yAxisIndex: i, silent: true, z, clip: true,
    data: vals.map((v, k) => [start + k * width, start + (k + 1) * width, v]),
    encode: { x: [0, 1], y: 2 },
    renderItem: (_p: any, api: any) => {
      const p0 = api.coord([api.value(0), api.value(2)]);
      const p1 = api.coord([api.value(1), 0]);
      return {
        type: "rect",
        shape: { x: p0[0], y: p0[1], width: p1[0] - p0[0], height: p1[1] - p0[1] },
        style: { fill },
      };
    },
  });

  const p3 = [pOmega1, pOmega2, pOmega3, pOmega4];
  const fits = [fit1, fit2, fit3, fit4];
  for (let c = 0; c < 4; c++) {
    const i = 8 + c;
    series.push(histSeries(i, hist3Start[c], hist3Width[c], p3[c], GRAY_T, 2));
    series.push({
      type: "line", xAxisIndex: i, yAxisIndex: i, showSymbol: false, silent: true, z: 4,
      data: fits[c], smooth: 0.35,
      lineStyle: { color: "#ff0000", width: 1.5, type: [5.5, 2.4] },
    });
  }

  const eb = [etaBlack1, etaBlack2, etaBlack3, etaBlack4];
  const er = [etaRed1, etaRed2, etaRed3, etaRed4];
  for (let c = 0; c < 4; c++) {
    const i = 12 + c;
    series.push(histSeries(i, etaBlackStart[c], etaBlackWidth[c], eb[c], "#000", 2));
    series.push(histSeries(i, etaRedStart[c], etaRedWidth[c], er[c], RED_T, 3));
  }

  graphic.push({
    type: "text", x: 1007, y: 5, silent: true,
    style: { text: "5", fontFamily: SERIF, fontSize: 17, fill: "#000" },
  });

  return { animation: false, grid, xAxis, yAxis, series, graphic };
}

export default function App() {
  const ref = useRef<HTMLDivElement>(null);
  useEffect(() => {
    if (!ref.current) return;
    const chart = echarts.init(ref.current, undefined, { renderer: "svg" });
    chart.setOption(buildOption() as any);
    return () => chart.dispose();
  }, []);
  return (
    <div
      ref={ref}
      style={{ position: "fixed", left: 0, top: 0, width: 1025, height: 1014, background: "#fff" }}
    />
  );
}
